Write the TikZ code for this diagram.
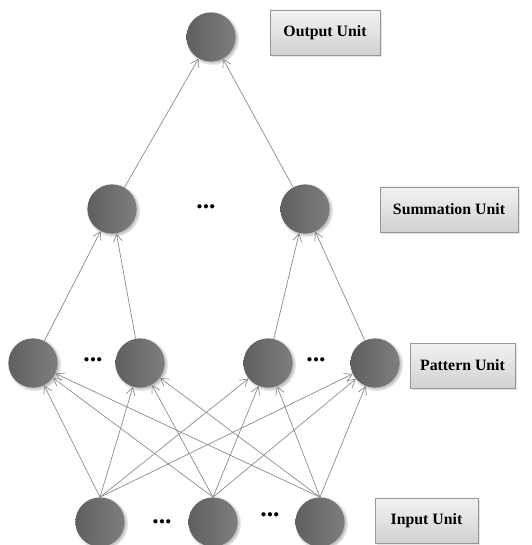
\documentclass[tikz,border=0pt]{standalone}
\usepackage{fontspec}
\setmainfont{Liberation Serif}
\usetikzlibrary{arrows.meta,shadows}

\definecolor{unitgray}{RGB}{112,112,112}
\definecolor{edgegray}{RGB}{140,140,140}
\definecolor{boxline}{RGB}{150,150,150}

\tikzset{
	unit/.style={circle, minimum size=42, inner sep=0pt, left color=unitgray!85!black, right color=unitgray!90!white,
		circular drop shadow={shadow xshift=1pt, shadow yshift=-1pt, fill=black!25}},
	label box/.style={draw=boxline, top color=white!95!black, bottom color=black!18,
		font=\bfseries\fontsize{13.5}{15}\selectfont, inner sep=0pt,
		drop shadow={shadow xshift=1.5pt, shadow yshift=-1.5pt, fill=black!20}},
	dots/.style={font=\bfseries\fontsize{22}{24}\selectfont, inner sep=0pt},
	link/.style={draw=edgegray, line width=0.6pt, -{Straight Barb[length=6.5pt,width=7.5pt]}}
}

\begin{document}
\begin{tikzpicture}[x=0.03cm, y=-0.03cm]
	\useasboundingbox (0,0) rectangle (531,545);

	% output layer
	\node[unit] (out) at (211,37) {};
	\node[label box, minimum width=110*0.03cm, minimum height=45*0.03cm] (outbox) at (325,32.5) {Output Unit};

	% summation layer
	\node[unit] (s1) at (112,209) {};
	\node[dots] (sdots) at (206,207) {...};
	\node[unit] (s2) at (305,209) {};
	\node[label box, minimum width=138*0.03cm, minimum height=45*0.03cm] (sumbox) at (449,209.5) {Summation Unit};

	% pattern layer
	\node[unit] (p1) at (33,363) {};
	\node[dots] (pdots1) at (93,360) {...};
	\node[unit] (p2) at (140,363) {};
	\node[unit] (p3) at (268,363) {};
	\node[dots] (pdots2) at (316,360) {...};
	\node[unit] (p4) at (375,363) {};
	\node[label box, minimum width=105*0.03cm, minimum height=45*0.03cm] (patbox) at (462.5,365.5) {Pattern Unit};

	% input layer
	\node[unit] (in1) at (100,522) {};
	\node[dots] (idots1) at (162,522) {...};
	\node[unit] (in2) at (213,522) {};
	\node[dots] (idots2) at (270,515) {...};
	\node[unit] (in3) at (320,522) {};
	\node[label box, minimum width=103*0.03cm, minimum height=45*0.03cm] (inbox) at (426.5,520.5) {Input Unit};

	\foreach \i in {in1,in2,in3}
		\foreach \p in {p1,p2,p3,p4}
			\draw[link] (\i.north) -- (\p);

	\draw[link] (p1) -- (s1);
	\draw[link] (p2) -- (s1);
	\draw[link] (p3) -- (s2);
	\draw[link] (p4) -- (s2);
	\draw[link] (s1) -- (out);
	\draw[link] (s2) -- (out);
\end{tikzpicture}
\end{document}
